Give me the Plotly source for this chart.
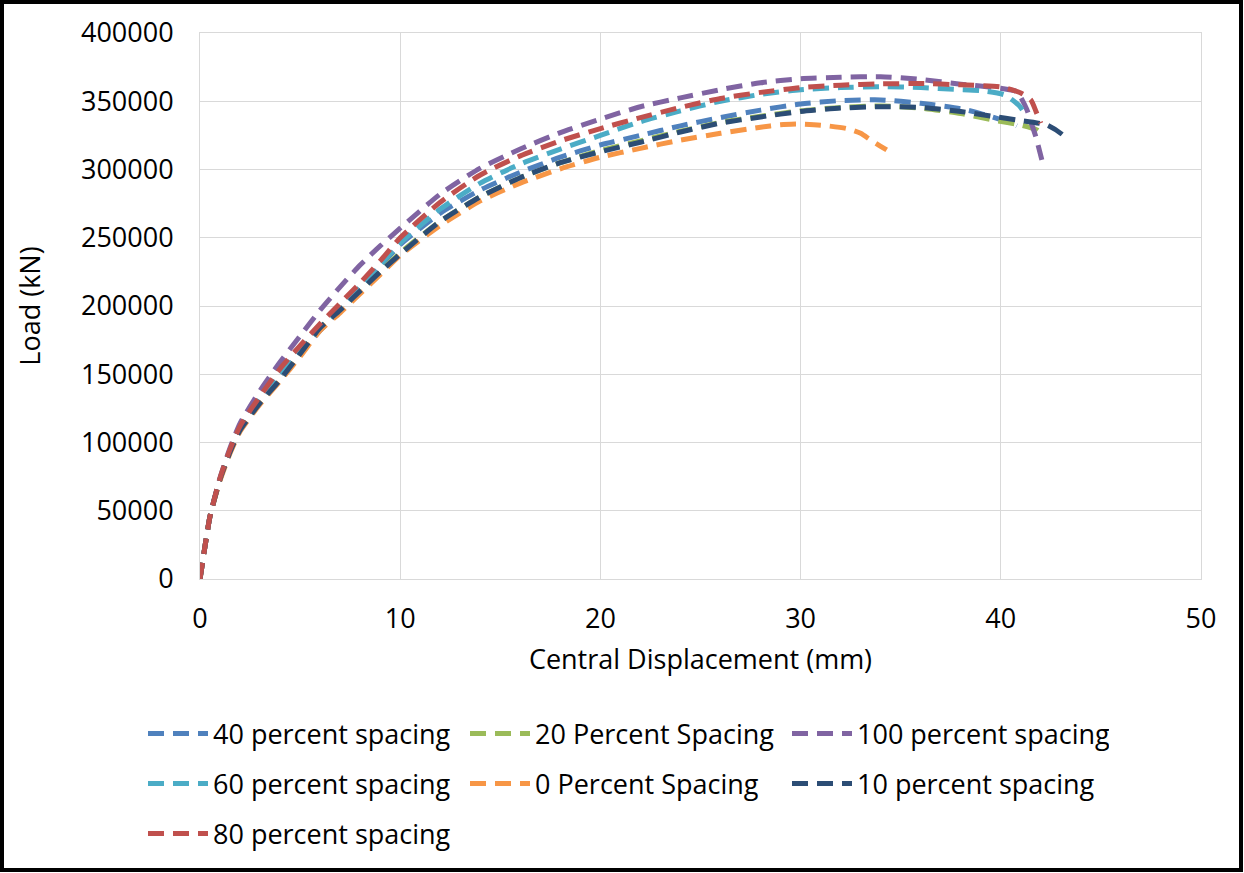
import plotly.graph_objects as go

# Load–displacement results for each stirrup spacing case
x_40 = [0, 0.25, 0.5, 1, 1.5, 2, 3, 4, 5, 6, 7, 8, 9, 10, 12, 14, 16, 18, 20, 22, 24, 26, 28, 30, 32, 34, 36, 38, 39, 40.5, 40.8]
y_40 = [0, 24000, 46000, 73000, 94000, 110000, 131000, 149000, 166000, 182000, 197000, 212000, 229000, 245000, 268000, 285000, 298000, 309000, 318000, 325000, 332000, 338000, 343500, 348000, 350500, 351000, 348500, 344500, 341000, 334000, 332000]

x_20 = [0, 0.25, 0.5, 1, 1.5, 2, 3, 4, 5, 6, 7, 8, 9, 10, 12, 14, 16, 18, 20, 22, 24, 26, 28, 30, 32, 34, 36, 38, 39.7, 41, 41.8, 42.1]
y_20 = [0, 24000, 46000, 73000, 93000, 109000, 129000, 146000, 165000, 184000, 197000, 211000, 225000, 239000, 262000, 280000, 294000, 305000, 314000, 321000, 328000, 334500, 339000, 343000, 345500, 346500, 345000, 341000, 336000, 332600, 329000, 325300]

x_100 = [0, 0.25, 0.5, 1, 1.5, 2, 3, 4, 5, 6, 7, 8, 9, 10, 12, 14, 16, 18, 20, 22, 24, 26, 28, 30, 32, 34, 36, 38, 40, 40.8, 41.3, 41.5, 41.75, 42.05]
y_100 = [0, 24000, 46000, 74000, 96000, 114000, 138000, 159000, 178000, 197000, 214000, 230000, 244000, 257000, 282000, 301000, 315000, 327000, 337000, 346000, 352500, 358500, 363500, 366500, 367500, 368000, 366000, 362500, 359500, 357000, 344000, 335000, 324000, 307000]

x_60 = [0, 0.25, 0.5, 1, 1.5, 2, 3, 4, 5, 6, 7, 8, 9, 10, 12, 14, 16, 18, 20, 22, 24, 26, 28, 30, 32, 34, 36, 37.8, 39, 40.2, 40.9, 41.2]
y_60 = [0, 24000, 46000, 73000, 94000, 111000, 132000, 151000, 168000, 184000, 199000, 214000, 230000, 246000, 271000, 290000, 304000, 315000, 325000, 335000, 343000, 350000, 355000, 358500, 360000, 360700, 360000, 358700, 357800, 354600, 347000, 341000]

x_0 = [0, 0.25, 0.5, 1, 1.5, 2, 3, 4, 5, 6, 7, 8, 9, 10, 12, 14, 16, 18, 20, 22, 24, 26, 28, 29, 30, 31, 32.3, 33, 33.5, 34, 34.3]
y_0 = [0, 24000, 46000, 72000, 92000, 108000, 128000, 145000, 163000, 182000, 195000, 209000, 223000, 237000, 259000, 277000, 290000, 300500, 309000, 315500, 321500, 326500, 331000, 332800, 333300, 332500, 330000, 326500, 321600, 317000, 314300]

x_10 = [0, 0.25, 0.5, 1, 1.5, 2, 3, 4, 5, 6, 7, 8, 9, 10, 12, 14, 16, 18, 20, 22, 24, 26, 28, 30, 32, 34, 36, 38, 39.7, 40.8, 42.3, 43.1, 43.3]
y_10 = [0, 24000, 46000, 73000, 93000, 109000, 129000, 146000, 165000, 184000, 197000, 211000, 225000, 238000, 262000, 280000, 294000, 305000, 313000, 320000, 327500, 334000, 338500, 342500, 345000, 346000, 345500, 342500, 338700, 336300, 332600, 325300, 321600]

x_80 = [0, 0.25, 0.5, 1, 1.5, 2, 3, 4, 5, 6, 7, 8, 9, 10, 12, 14, 16, 18, 20, 22, 24, 26, 28, 30, 32, 34, 36, 38, 40, 41, 41.5, 41.8, 42]
y_80 = [0, 24000, 46000, 74000, 95000, 112000, 134000, 154000, 171000, 187000, 202000, 217000, 233000, 250000, 276000, 296000, 310000, 321000, 330000, 338000, 345500, 352000, 356500, 360000, 361800, 362700, 363000, 362000, 360500, 356000, 351000, 341000, 334000]

series = [
    ("40 percent spacing", x_40, y_40, "#4F81BD", "legend"),
    ("20 Percent Spacing", x_20, y_20, "#9BBB59", "legend"),
    ("100 percent spacing", x_100, y_100, "#8064A2", "legend"),
    ("60 percent spacing", x_60, y_60, "#4BACC6", "legend2"),
    ("0 Percent Spacing", x_0, y_0, "#F79646", "legend2"),
    ("10 percent spacing", x_10, y_10, "#2C4D75", "legend2"),
    ("80 percent spacing", x_80, y_80, "#C0504D", "legend3"),
]

FONT = "Open Sans, Noto Sans, sans-serif"
FS = 27

fig = go.Figure()
for name, xs, ys, color, lg in series:
    fig.add_trace(go.Scatter(
        x=xs, y=ys, name=name, mode="lines", legend=lg,
        line=dict(color=color, width=5, dash="16px,9px", shape="spline", smoothing=0.6),
    ))

W, H = 1244, 873
L, R, T, B = 200, 43, 33, 294
pw, ph = W - L - R, H - T - B

def px_x(p):
    return (p - L) / pw

def px_y(p):
    return (H - B - p) / ph

legend_common = dict(
    orientation="h", xanchor="left", yanchor="middle",
    font=dict(family=FONT, size=27, color="#000000"),
    entrywidth=247, entrywidthmode="pixels",
    bgcolor="rgba(0,0,0,0)", itemwidth=60,
)

fig.update_layout(
    width=W, height=H,
    margin=dict(l=L, r=R, t=T, b=B),
    paper_bgcolor="white", plot_bgcolor="white",
    font=dict(family=FONT, size=FS, color="#000000"),
    xaxis=dict(
        range=[0, 50], dtick=10, showgrid=True, gridcolor="#D9D9D9", gridwidth=1,
        showline=True, linecolor="#D9D9D9", linewidth=1, mirror=True,
        zeroline=False, ticks="", ticklabelstandoff=16,
        tickfont=dict(family=FONT, size=FS),
        title=dict(text="Central Displacement (mm)", font=dict(family=FONT, size=FS), standoff=14),
    ),
    yaxis=dict(
        range=[0, 400000], dtick=50000, showgrid=True, gridcolor="#D9D9D9", gridwidth=1,
        showline=True, linecolor="#D9D9D9", linewidth=1, mirror=True,
        zeroline=False, ticks="", ticklabelstandoff=20, tickformat="d",
        tickfont=dict(family=FONT, size=FS),
        title=dict(text="Load (kN)", font=dict(family=FONT, size=FS), standoff=32),
    ),
    legend=dict(x=px_x(143), y=px_y(734), **legend_common),
    legend2=dict(x=px_x(143), y=px_y(784), **legend_common),
    legend3=dict(x=px_x(143), y=px_y(834), **legend_common),
    showlegend=True,
    shapes=[dict(
        type="rect", xref="paper", yref="paper",
        x0=px_x(2), x1=px_x(1241), y0=px_y(870), y1=px_y(2),
        line=dict(color="#000000", width=4), layer="above",
    )],
)

fig.write_html("out.html")
